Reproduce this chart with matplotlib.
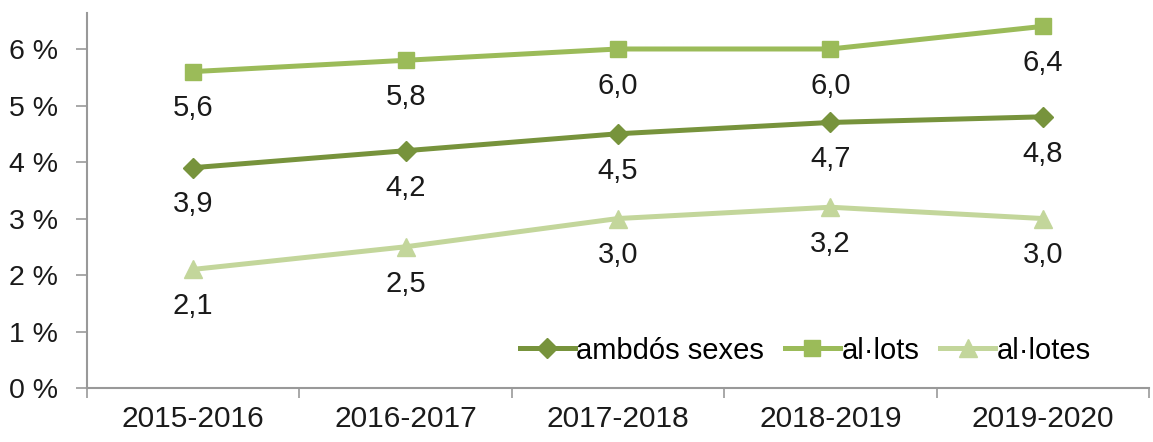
import numpy as np
import matplotlib.pyplot as plt
from matplotlib.ticker import FixedLocator

plt.rcParams['font.family'] = ['Liberation Sans', 'DejaVu Sans']

# dades
cursos = ['2015-2016', '2016-2017', '2017-2018', '2018-2019', '2019-2020']
ambdos = [3.9, 4.2, 4.5, 4.7, 4.8]
allots = [5.6, 5.8, 6.0, 6.0, 6.4]
allotes = [2.1, 2.5, 3.0, 3.2, 3.0]
ytick_vals = [0, 1, 2, 3, 4, 5, 6]

fig = plt.figure(figsize=(11.53, 4.42), dpi=100)
ax = fig.add_axes([0.0755, 0.122, 0.921, 0.849])

x = np.arange(len(cursos))
series = [
    (ambdos, 'ambdós sexes', '#77933C', 'D', 10),
    (allots, 'al·lots', '#9BBB59', 's', 12),
    (allotes, 'al·lotes', '#C3D69B', '^', 13),
]
for vals, nom, col, mk, ms in series:
    ax.plot(x, vals, color=col, lw=3.6, marker=mk, markersize=ms, label=nom)
    for xi, v in zip(x, vals):
        ax.annotate(f'{v:.1f}'.replace('.', ','), (xi, v), xytext=(0, -26.5),
                    textcoords='offset points', ha='center', va='center',
                    fontsize=21, color='#1a1a1a')

ax.set_xlim(-0.5, len(cursos) - 0.5)
ax.set_ylim(0, 6.64)
ax.set_yticks(ytick_vals)
ax.set_yticklabels([f'{v} %' for v in ytick_vals], fontsize=20.5, color='#1a1a1a')
ax.set_xticks(x)
ax.set_xticklabels(cursos, fontsize=21.5, color='#1a1a1a')
ax.tick_params(axis='x', which='major', length=0, pad=12)
ax.xaxis.set_minor_locator(FixedLocator(np.arange(-0.5, len(cursos), 1)))
ax.tick_params(axis='x', which='minor', length=7, color='#999999', width=1.2)
ax.tick_params(axis='y', length=8, color='#999999', width=1.2, pad=13)

for s in ['top', 'right']:
    ax.spines[s].set_visible(False)
for s in ['left', 'bottom']:
    ax.spines[s].set_color('#999999')
    ax.spines[s].set_linewidth(1.5)

ax.legend(loc='center right', bbox_to_anchor=(0.97, 0.1), ncol=3, frameon=False,
          fontsize=21, handlelength=1.9, handletextpad=0.05, columnspacing=0.7)

fig.savefig('out.png', dpi=100)
